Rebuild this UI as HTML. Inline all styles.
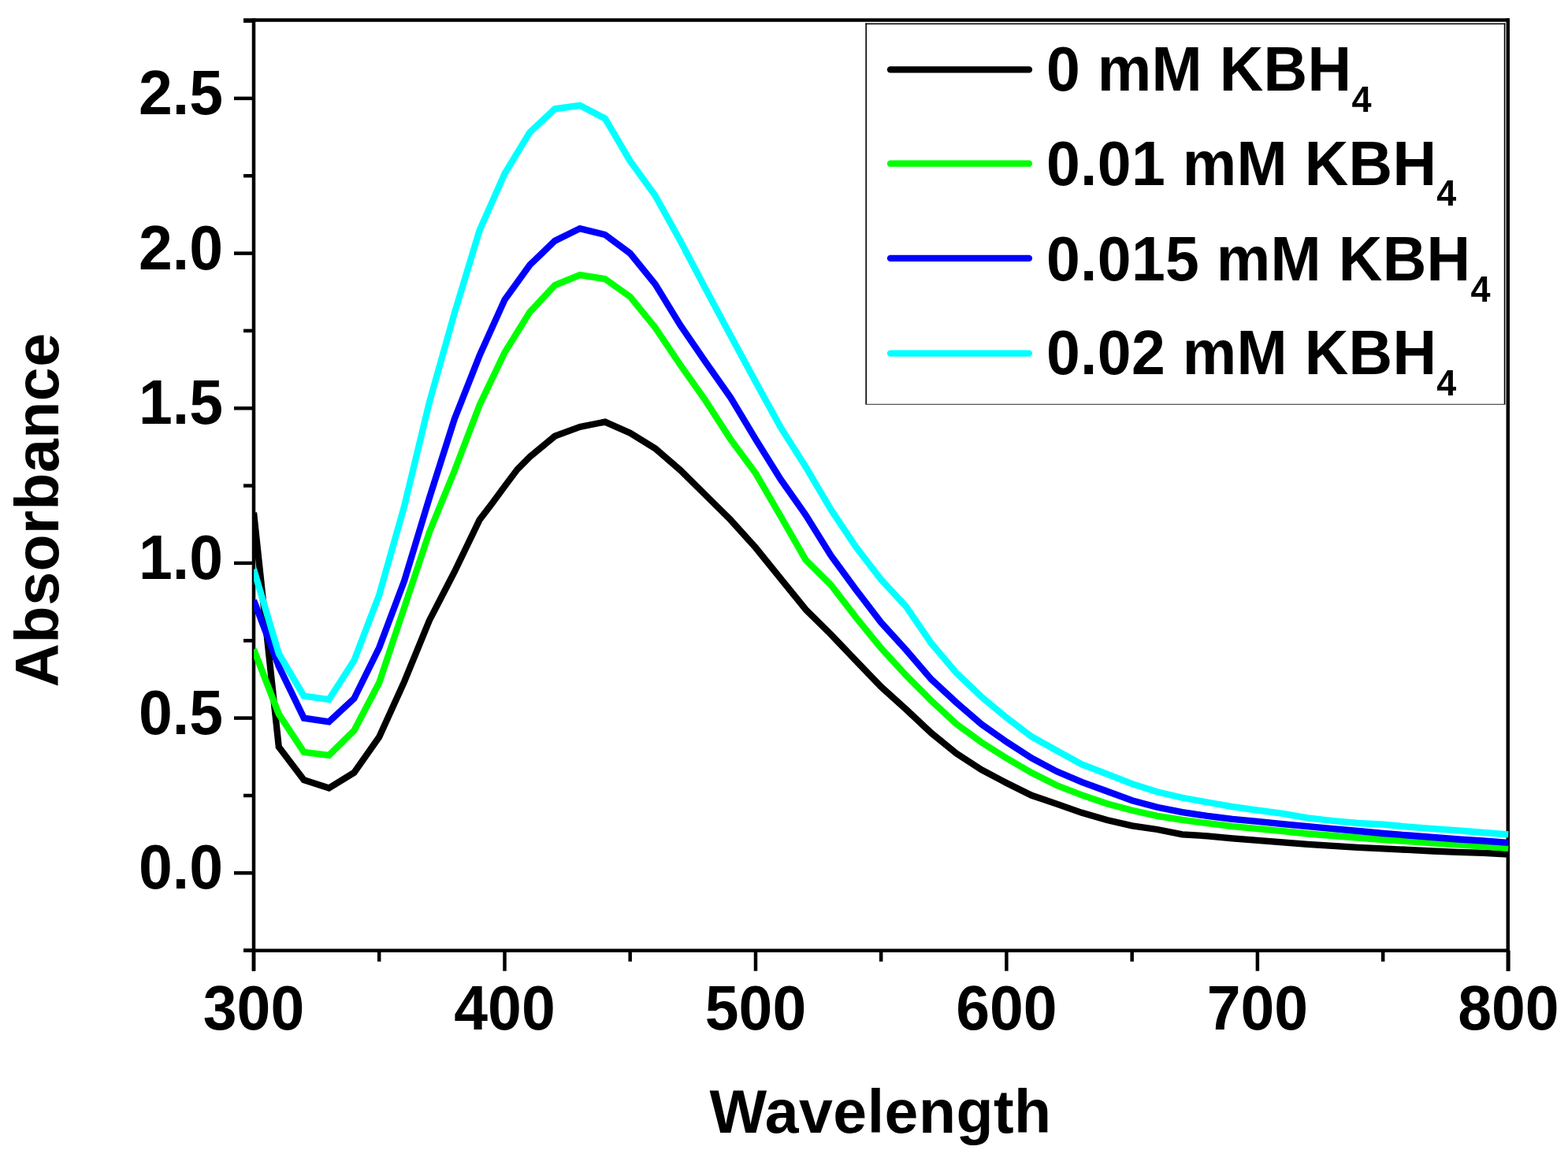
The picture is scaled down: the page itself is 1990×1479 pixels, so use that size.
<!DOCTYPE html>
<html><head><meta charset="utf-8"><style>
html,body{margin:0;padding:0;background:#fff;}
body{width:1990px;height:1479px;overflow:hidden;}
svg{display:block;}
text{font-family:"Liberation Sans", Arial, sans-serif;font-weight:bold;font-size:77px;fill:#000;}
</style></head><body>
<svg width="1990" height="1479" viewBox="0 0 1990 1479">
<rect width="1990" height="1479" fill="#fff"/>
<clipPath id="pc"><rect x="322.0" y="25.6" width="1592.8" height="1181.1000000000001"/></clipPath>
<line x1="309.0" y1="25.6" x2="1915.3" y2="25.6" stroke="#000" stroke-width="4.5"/>
<line x1="309.0" y1="1206.7" x2="1916.05" y2="1206.7" stroke="#000" stroke-width="4.5"/>
<line x1="322.0" y1="23.35" x2="322.0" y2="1232.7" stroke="#000" stroke-width="4.5"/>
<line x1="1913.8" y1="23.35" x2="1913.8" y2="1232.7" stroke="#000" stroke-width="4.5"/>
<line x1="309.0" y1="1206.6" x2="322.0" y2="1206.6" stroke="#000" stroke-width="4.5"/>
<line x1="297.0" y1="1108.3" x2="322.0" y2="1108.3" stroke="#000" stroke-width="4.5"/>
<line x1="309.0" y1="1010.0" x2="322.0" y2="1010.0" stroke="#000" stroke-width="4.5"/>
<line x1="297.0" y1="911.6" x2="322.0" y2="911.6" stroke="#000" stroke-width="4.5"/>
<line x1="309.0" y1="813.3" x2="322.0" y2="813.3" stroke="#000" stroke-width="4.5"/>
<line x1="297.0" y1="714.9" x2="322.0" y2="714.9" stroke="#000" stroke-width="4.5"/>
<line x1="309.0" y1="616.6" x2="322.0" y2="616.6" stroke="#000" stroke-width="4.5"/>
<line x1="297.0" y1="518.3" x2="322.0" y2="518.3" stroke="#000" stroke-width="4.5"/>
<line x1="309.0" y1="419.9" x2="322.0" y2="419.9" stroke="#000" stroke-width="4.5"/>
<line x1="297.0" y1="321.6" x2="322.0" y2="321.6" stroke="#000" stroke-width="4.5"/>
<line x1="309.0" y1="223.2" x2="322.0" y2="223.2" stroke="#000" stroke-width="4.5"/>
<line x1="297.0" y1="124.9" x2="322.0" y2="124.9" stroke="#000" stroke-width="4.5"/>
<line x1="309.0" y1="26.6" x2="322.0" y2="26.6" stroke="#000" stroke-width="4.5"/>
<line x1="322.0" y1="1206.7" x2="322.0" y2="1232.7" stroke="#000" stroke-width="4.5"/>
<line x1="481.2" y1="1206.7" x2="481.2" y2="1220.7" stroke="#000" stroke-width="4.5"/>
<line x1="640.5" y1="1206.7" x2="640.5" y2="1232.7" stroke="#000" stroke-width="4.5"/>
<line x1="799.7" y1="1206.7" x2="799.7" y2="1220.7" stroke="#000" stroke-width="4.5"/>
<line x1="959.0" y1="1206.7" x2="959.0" y2="1232.7" stroke="#000" stroke-width="4.5"/>
<line x1="1118.2" y1="1206.7" x2="1118.2" y2="1220.7" stroke="#000" stroke-width="4.5"/>
<line x1="1277.4" y1="1206.7" x2="1277.4" y2="1232.7" stroke="#000" stroke-width="4.5"/>
<line x1="1436.7" y1="1206.7" x2="1436.7" y2="1220.7" stroke="#000" stroke-width="4.5"/>
<line x1="1595.9" y1="1206.7" x2="1595.9" y2="1232.7" stroke="#000" stroke-width="4.5"/>
<line x1="1755.2" y1="1206.7" x2="1755.2" y2="1220.7" stroke="#000" stroke-width="4.5"/>
<line x1="1914.4" y1="1206.7" x2="1914.4" y2="1232.7" stroke="#000" stroke-width="4.5"/>
<g clip-path="url(#pc)">
<polyline points="322.0,650.8 353.8,948.2 385.7,990.3 417.5,1000.5 449.4,980.9 481.2,935.6 513.1,865.4 544.9,787.7 576.8,726.0 608.6,659.9 624.6,639.0 640.5,617.4 656.4,596.1 672.3,580.0 704.2,553.7 736.0,541.9 767.9,535.6 799.7,549.7 831.6,569.4 863.4,596.9 895.3,628.4 927.1,659.9 959.0,695.3 990.8,734.6 1022.7,773.9 1054.5,805.4 1086.4,838.9 1118.2,871.9 1150.0,900.6 1181.9,930.5 1213.7,956.4 1245.6,977.2 1277.4,994.0 1309.3,1009.8 1341.1,1020.6 1373.0,1031.8 1404.8,1041.0 1436.7,1048.4 1468.5,1053.0 1500.4,1059.3 1532.2,1061.3 1564.1,1064.3 1595.9,1066.8 1627.8,1069.4 1659.6,1071.9 1691.5,1073.9 1723.3,1075.9 1755.2,1077.4 1787.0,1078.9 1818.9,1080.5 1850.7,1081.9 1882.6,1082.8 1914.4,1084.7" fill="none" stroke="#000000" stroke-width="8.3" stroke-linejoin="miter" stroke-miterlimit="3" stroke-linecap="butt"/>
<polyline points="322.0,824.3 353.8,906.5 385.7,954.9 417.5,958.8 449.4,927.4 481.2,866.8 513.1,771.2 544.9,675.6 576.8,597.7 608.6,514.3 640.5,447.5 672.3,396.3 704.2,362.1 736.0,349.1 767.9,354.2 799.7,376.7 831.6,416.0 863.4,463.2 895.3,508.4 927.1,557.6 959.0,600.9 990.8,655.5 1022.7,711.0 1054.5,742.5 1086.4,783.9 1118.2,822.8 1150.0,857.5 1181.9,889.5 1213.7,919.0 1245.6,942.4 1277.4,962.5 1309.3,981.0 1341.1,997.0 1373.0,1009.4 1404.8,1020.2 1436.7,1028.7 1468.5,1035.8 1500.4,1040.9 1532.2,1045.2 1564.1,1049.1 1595.9,1052.2 1627.8,1055.2 1659.6,1058.5 1691.5,1061.0 1723.3,1063.5 1755.2,1066.0 1787.0,1068.0 1818.9,1070.3 1850.7,1072.3 1882.6,1074.3 1914.4,1076.8" fill="none" stroke="#00ff00" stroke-width="8.3" stroke-linejoin="miter" stroke-miterlimit="3" stroke-linecap="butt"/>
<polyline points="322.0,762.1 353.8,845.9 385.7,911.6 417.5,916.3 449.4,886.8 481.2,822.3 513.1,737.4 544.9,632.3 576.8,532.0 608.6,451.4 640.5,380.6 672.3,336.5 704.2,305.8 736.0,290.1 767.9,298.0 799.7,321.6 831.6,360.9 863.4,412.8 895.3,459.3 927.1,504.5 959.0,557.6 990.8,608.7 1022.7,654.0 1054.5,705.1 1086.4,748.7 1118.2,790.3 1150.0,825.3 1181.9,862.4 1213.7,891.8 1245.6,919.4 1277.4,941.8 1309.3,962.4 1341.1,979.3 1373.0,992.8 1404.8,1004.5 1436.7,1016.2 1468.5,1024.8 1500.4,1031.1 1532.2,1035.9 1564.1,1039.9 1595.9,1042.9 1627.8,1046.2 1659.6,1049.2 1691.5,1052.2 1723.3,1055.0 1755.2,1058.0 1787.0,1060.5 1818.9,1063.0 1850.7,1065.5 1882.6,1067.5 1914.4,1069.9" fill="none" stroke="#0000ff" stroke-width="8.3" stroke-linejoin="miter" stroke-miterlimit="3" stroke-linecap="butt"/>
<polyline points="322.0,722.8 353.8,829.8 385.7,883.7 417.5,888.0 449.4,838.5 481.2,755.5 513.1,642.6 544.9,510.8 576.8,397.5 608.6,292.5 640.5,220.5 672.3,168.2 704.2,138.3 736.0,133.9 767.9,150.5 799.7,204.4 831.6,248.4 863.4,305.8 895.3,366.4 927.1,425.8 959.0,484.8 990.8,542.6 1022.7,593.0 1054.5,646.9 1086.4,694.5 1118.2,735.7 1150.0,770.1 1181.9,816.7 1213.7,854.2 1245.6,884.6 1277.4,911.1 1309.3,935.2 1341.1,952.8 1373.0,970.4 1404.8,982.6 1436.7,995.2 1468.5,1005.2 1500.4,1012.8 1532.2,1018.5 1564.1,1024.1 1595.9,1028.6 1627.8,1032.9 1659.6,1038.3 1691.5,1042.0 1723.3,1045.0 1755.2,1046.7 1787.0,1049.7 1818.9,1052.2 1850.7,1054.4 1882.6,1057.0 1914.4,1059.3" fill="none" stroke="#00ffff" stroke-width="8.3" stroke-linejoin="miter" stroke-miterlimit="3" stroke-linecap="butt"/>
</g>
<rect x="1099.2" y="30.2" width="810.3" height="483" fill="#fff" stroke="none"/>
<line x1="1099.2" y1="29.5" x2="1099.2" y2="513.5" stroke="#000" stroke-width="1.6"/>
<line x1="1909.6" y1="29.5" x2="1909.6" y2="513.5" stroke="#000" stroke-width="1.6"/>
<line x1="1098.4" y1="30.2" x2="1910.4" y2="30.2" stroke="#000" stroke-width="1.6"/>
<line x1="1098.4" y1="513.3" x2="1910.4" y2="513.3" stroke="#555" stroke-width="1.2"/>
<line x1="1130" y1="88.4" x2="1306" y2="88.4" stroke="#000" stroke-width="8.3" stroke-linecap="round"/>
<text transform="translate(1328,114.8) scale(1,1.03)" letter-spacing="0.3">0 mM KBH<tspan font-size="45" dy="26">4</tspan></text>
<line x1="1130" y1="207.7" x2="1306" y2="207.7" stroke="#00ff00" stroke-width="8.3" stroke-linecap="round"/>
<text transform="translate(1328,234.5) scale(1,1.03)" letter-spacing="0.3">0.01 mM KBH<tspan font-size="45" dy="26">4</tspan></text>
<line x1="1130" y1="327.9" x2="1306" y2="327.9" stroke="#0000ff" stroke-width="8.3" stroke-linecap="round"/>
<text transform="translate(1328,355.9) scale(1,1.03)" letter-spacing="0.3">0.015 mM KBH<tspan font-size="45" dy="26">4</tspan></text>
<line x1="1130" y1="448.6" x2="1306" y2="448.6" stroke="#00ffff" stroke-width="8.3" stroke-linecap="round"/>
<text transform="translate(1328,475.0) scale(1,1.03)" letter-spacing="0.3">0.02 mM KBH<tspan font-size="45" dy="26">4</tspan></text>
<text transform="translate(283,1128.3) scale(1,1.035)" text-anchor="end">0.0</text>
<text transform="translate(283,931.6) scale(1,1.035)" text-anchor="end">0.5</text>
<text transform="translate(283,734.9) scale(1,1.035)" text-anchor="end">1.0</text>
<text transform="translate(283,538.3) scale(1,1.035)" text-anchor="end">1.5</text>
<text transform="translate(283,341.6) scale(1,1.035)" text-anchor="end">2.0</text>
<text transform="translate(283,144.9) scale(1,1.035)" text-anchor="end">2.5</text>
<text transform="translate(322.0,1306.5) scale(1,1.035)" text-anchor="middle">300</text>
<text transform="translate(640.5,1306.5) scale(1,1.035)" text-anchor="middle">400</text>
<text transform="translate(959.0,1306.5) scale(1,1.035)" text-anchor="middle">500</text>
<text transform="translate(1277.4,1306.5) scale(1,1.035)" text-anchor="middle">600</text>
<text transform="translate(1595.9,1306.5) scale(1,1.035)" text-anchor="middle">700</text>
<text transform="translate(1914.4,1306.5) scale(1,1.035)" text-anchor="middle">800</text>
<text transform="translate(1117.5,1438) scale(1.0,1.0)" text-anchor="middle" letter-spacing="0.5">Wavelength</text>
<text transform="translate(74,647.5) rotate(-90) scale(1.0,1.0)" text-anchor="middle" letter-spacing="0.5">Absorbance</text>
</svg>
</body></html>
